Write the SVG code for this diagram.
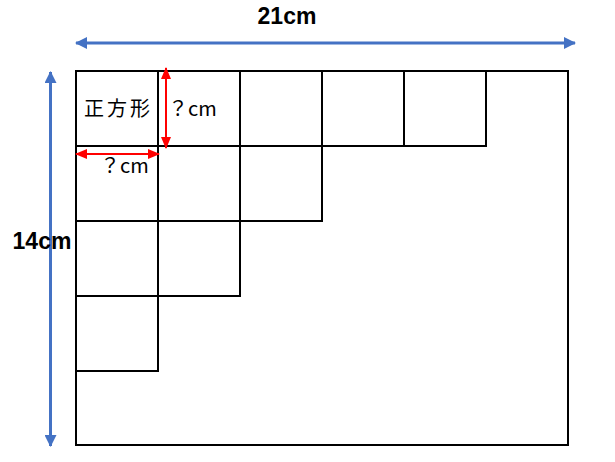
<svg xmlns="http://www.w3.org/2000/svg" width="615" height="462" viewBox="0 0 615 462">
<style>
.sq{fill:none;stroke:#000;stroke-width:2}
.blue{stroke:#4472C4;stroke-width:3;fill:none}
.red{stroke:#FF0000;stroke-width:2;fill:none}
.dim{font-family:"Liberation Sans",Arial,sans-serif;font-weight:bold;font-size:23px;fill:#000}
.jp{font-family:"Noto Sans CJK JP","Noto Sans CJK SC",sans-serif;font-size:20px;fill:#000}
</style>
<defs>
<marker id="ab" viewBox="0 0 12 12" refX="11" refY="6" markerWidth="12" markerHeight="12" markerUnits="userSpaceOnUse" orient="auto-start-reverse">
<path d="M0,0 L12,6 L0,12 Z" fill="#4472C4"/>
</marker>
<marker id="ar" viewBox="0 0 12 10" refX="11" refY="5" markerWidth="12" markerHeight="10" markerUnits="userSpaceOnUse" orient="auto-start-reverse">
<path d="M0,0 L12,5 L0,10 Z" fill="#FF0000"/>
</marker>
</defs>
<g id="outer"><rect class="sq" x="76" y="71" width="492" height="374"/></g>
<g id="squares">
<rect class="sq" x="76" y="71" width="82" height="75"/>
<rect class="sq" x="158" y="71" width="82" height="75"/>
<rect class="sq" x="240" y="71" width="82" height="75"/>
<rect class="sq" x="322" y="71" width="82" height="75"/>
<rect class="sq" x="404" y="71" width="82" height="75"/>
<rect class="sq" x="76" y="146" width="82" height="75"/>
<rect class="sq" x="158" y="146" width="82" height="75"/>
<rect class="sq" x="240" y="146" width="82" height="75"/>
<rect class="sq" x="76" y="221" width="82" height="75"/>
<rect class="sq" x="158" y="221" width="82" height="75"/>
<rect class="sq" x="76" y="296" width="82" height="75"/>
</g>
<g id="connectors">
<line class="blue" x1="76" y1="43" x2="575" y2="43" marker-start="url(#ab)" marker-end="url(#ab)"/>
<line class="blue" x1="50.5" y1="72" x2="50.5" y2="446" marker-start="url(#ab)" marker-end="url(#ab)"/>
<line class="red" x1="166" y1="68" x2="166" y2="148" marker-start="url(#ar)" marker-end="url(#ar)"/>
<line class="red" x1="76" y1="154" x2="159" y2="154" marker-start="url(#ar)" marker-end="url(#ar)"/>
</g>
<g id="labels">
<text class="dim" x="287" y="24" text-anchor="middle">21cm</text>
<text class="dim" x="42" y="249" text-anchor="middle">14cm</text>
<text class="jp" x="84" y="116" letter-spacing="3">正方形</text>
<text class="jp" x="168" y="116">？cm</text>
<text class="jp" x="100" y="173">？cm</text>
</g>
</svg>
